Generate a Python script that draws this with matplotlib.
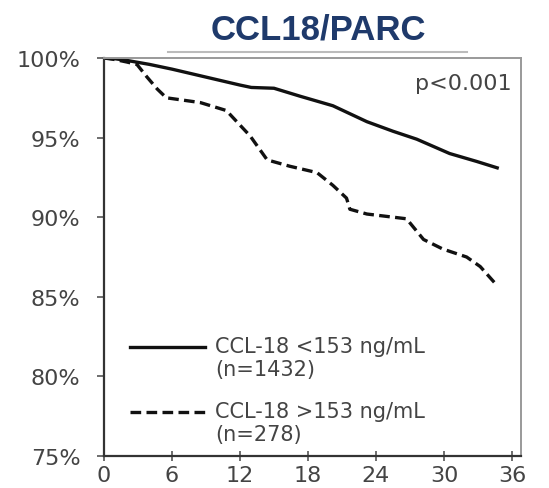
import matplotlib
matplotlib.use("Agg")
import matplotlib.pyplot as plt
from matplotlib.lines import Line2D

# Данные (месяцы, % без событий)
low_months = [0, 1, 2, 4, 6, 9, 12, 13, 15, 17.3, 20.2, 23.2, 25.5, 27.6, 30.5, 32.9, 34.7]
low_surv = [100, 99.95, 99.85, 99.6, 99.3, 98.8, 98.3, 98.15, 98.1, 97.6, 97.0, 96.0, 95.4, 94.9, 94.0, 93.5, 93.1]

high_months = [0, 1, 2, 2.9, 3.8, 4.7, 5.5, 8.5, 10.8, 12.9, 14.4, 16.4, 18.8, 20.2, 21.4, 21.7,
               23.2, 26.7, 28.2, 29.9, 32.0, 33.2, 34.7]
high_surv = [100, 99.9, 99.75, 99.6, 98.8, 98.05, 97.5, 97.2, 96.7, 95.1, 93.6, 93.2, 92.8, 92.0,
             91.2, 90.5, 90.2, 89.9, 88.6, 88.0, 87.5, 86.9, 85.7]

labels = ["CCL-18 <153 ng/mL\n(n=1432)", "CCL-18 >153 ng/mL\n(n=278)"]
x_ticks = [0, 6, 12, 18, 24, 30, 36]
y_ticks = [75, 80, 85, 90, 95, 100]
title = "CCL18/PARC"
p_text = "p<0.001"

fig = plt.figure(figsize=(5.49, 4.89), dpi=100)
ax = fig.add_axes([104 / 549, 1 - 457 / 489, (521 - 104) / 549, (457 - 59) / 489])

ax.plot(low_months, low_surv, color="#111111", lw=2.4, label=labels[0])
ax.plot(high_months, high_surv, color="#111111", lw=2.4, dashes=(3.2, 1.6), label=labels[1])

ax.set_xlim(0, 36.8)
ax.set_ylim(75, 100)
ax.set_xticks(x_ticks)
ax.set_yticks(y_ticks)
ax.set_yticklabels([f"{v}%" for v in y_ticks])

for s in ["left", "bottom"]:
    ax.spines[s].set_color("#333333")
    ax.spines[s].set_linewidth(1.6)
for s in ["top", "right"]:
    ax.spines[s].set_color("#999999")
    ax.spines[s].set_linewidth(1.4)

ax.tick_params(axis="y", direction="out", length=5, width=1.2, color="#555555",
               labelsize=16, labelcolor="#444444", pad=12)
ax.tick_params(axis="x", direction="inout", length=7, width=1.2, color="#555555",
               labelsize=16, labelcolor="#444444", pad=3)

ax.text(0.978, 0.937, p_text, transform=ax.transAxes, ha="right", va="center",
        fontsize=16, color="#444444")

leg = ax.legend(loc="lower left", bbox_to_anchor=(0.062, 0.03), frameon=False,
                borderaxespad=0, borderpad=0,
                handlelength=3.6, handletextpad=0.5, labelspacing=1.04,
                fontsize=15, labelcolor="#444444")
# линия легенды напротив первой строки подписи
for ln in leg.get_lines():
    ln.set_linewidth(2.4)
    yd = ln.get_ydata()
    ln.set_ydata([y + 8.0 for y in yd])

fig.text(318 / 549, 1 - 30 / 489, title, ha="center", va="center", fontsize=25,
         fontweight="bold", color="#1f3a6b", family="Liberation Sans")
fig.add_artist(Line2D([168 / 549, 467 / 549], [1 - 53 / 489, 1 - 53 / 489],
                      color="#bbbbbb", lw=1.5))

plt.savefig("out.png", dpi=100)
plt.close()
